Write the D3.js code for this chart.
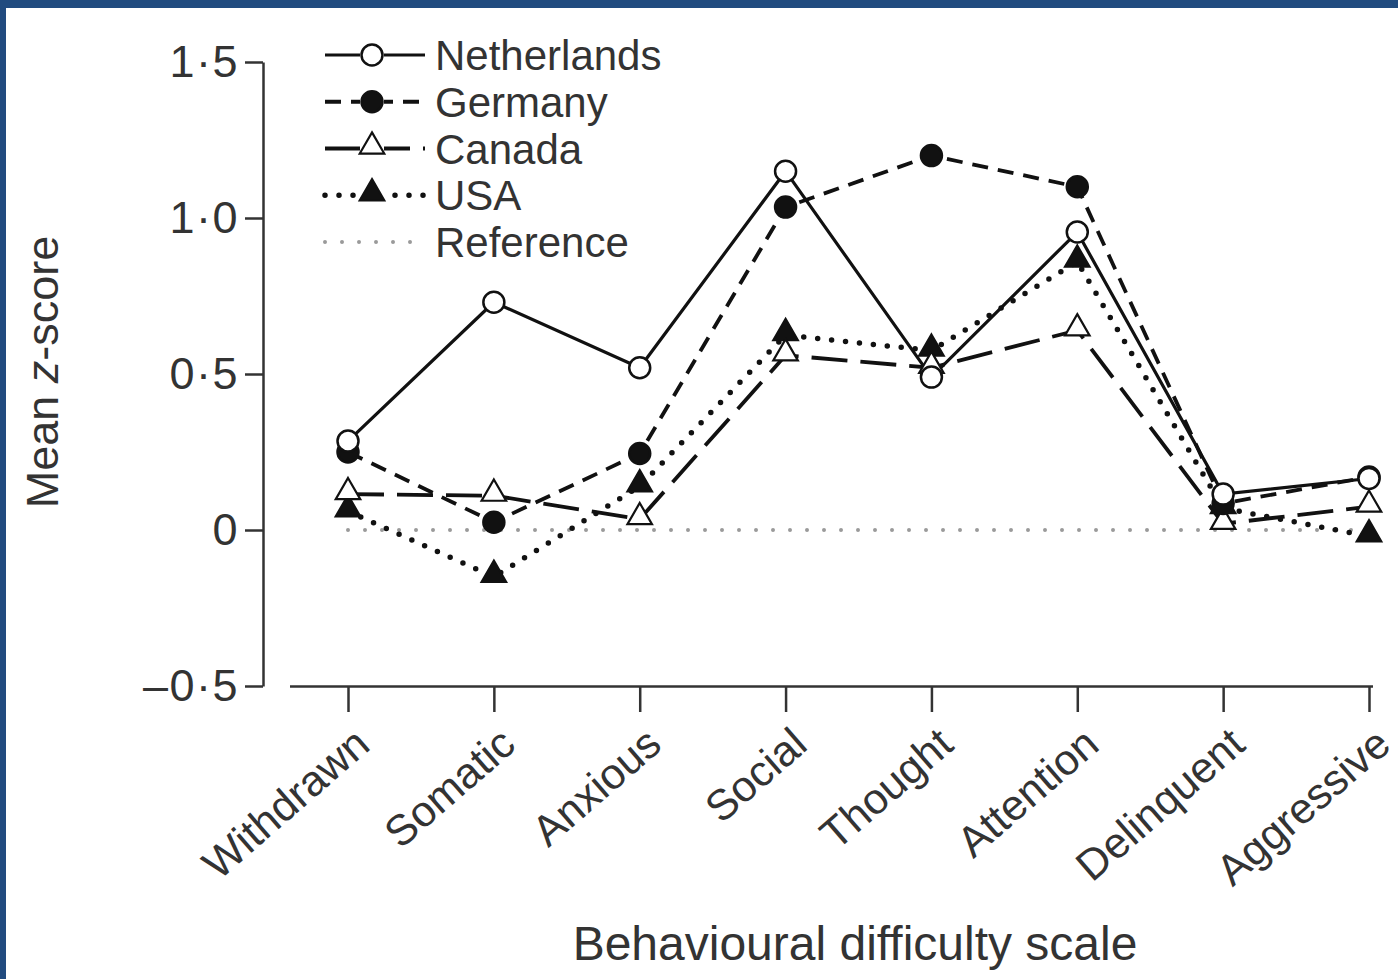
<!DOCTYPE html>
<html>
<head>
<meta charset="utf-8">
<script src="https://cdn.jsdelivr.net/npm/d3@7"></script>
<style>
  html, body { margin: 0; padding: 0; background: #fff; }
  svg { display: block; }
  text { font-family: "Liberation Sans", Arial, sans-serif; fill: #333; }
</style>
</head>
<body>
<svg id="chart"></svg>
<script>
  var WIDTH = 1398, HEIGHT = 979;

  var categories = ['Withdrawn', 'Somatic', 'Anxious', 'Social', 'Thought', 'Attention', 'Delinquent', 'Aggressive'];
  var netherlands = [0.285, 0.73, 0.52, 1.15, 0.49, 0.955, 0.115, 0.165];
  var germany = [0.25, 0.025, 0.245, 1.035, 1.2, 1.1, 0.085, 0.17];
  var canada = [0.115, 0.11, 0.035, 0.56, 0.52, 0.64, 0.02, 0.075];
  var usa = [0.06, -0.15, 0.14, 0.625, 0.575, 0.86, 0.07, -0.02];
  var reference = [0, 0, 0, 0, 0, 0, 0, 0];
  var yTicks = [-0.5, 0, 0.5, 1.0, 1.5];

  var series = [
    { name: 'Netherlands', values: netherlands, dash: null, width: 3.2, cap: 'butt', marker: 'circle', fill: '#fff' },
    { name: 'Germany', values: germany, dash: '16,10', width: 3.8, cap: 'butt', marker: 'circle', fill: '#111' },
    { name: 'Canada', values: canada, dash: '36,13', width: 3.8, cap: 'butt', marker: 'triangle', fill: '#fff' },
    { name: 'USA', values: usa, dash: '0,14', width: 5.5, cap: 'round', marker: 'triangle', fill: '#111' },
    { name: 'Reference', values: reference, dash: '0,17', width: 4, cap: 'round', marker: null, fill: null, color: '#9a9a9a' }
  ];

  var svg = d3.select('#chart').attr('width', WIDTH).attr('height', HEIGHT);

  // frame
  svg.append('rect').attr('width', WIDTH).attr('height', HEIGHT).attr('fill', '#fff');
  svg.append('rect').attr('x', 0).attr('y', 0).attr('width', WIDTH).attr('height', 8).attr('fill', '#214b7f');
  svg.append('rect').attr('x', 0).attr('y', 0).attr('width', 6).attr('height', HEIGHT).attr('fill', '#214b7f');

  var x = d3.scalePoint().domain(categories).range([348, 1369]);
  var y = d3.scaleLinear().domain([-0.5, 1.5]).range([686, 62]);

  function fmt(v) {
    if (v === 0) return '0';
    return (v < 0 ? '\u2013' : '') + d3.format('.1f')(Math.abs(v)).replace('.', '\u00b7');
  }

  // y axis
  var yAxis = svg.append('g')
    .attr('transform', 'translate(263,0)')
    .call(d3.axisLeft(y).tickValues(yTicks).tickFormat(fmt).tickSize(18).tickSizeOuter(0).tickPadding(6));
  yAxis.select('.domain').attr('stroke', '#333').attr('stroke-width', 2.5);
  yAxis.selectAll('.tick line').attr('stroke', '#333').attr('stroke-width', 2.5);
  yAxis.selectAll('.tick text')
    .style('font-family', '"Liberation Sans", Arial, sans-serif')
    .style('font-size', '45px').style('letter-spacing', '1.5px').attr('fill', '#333');

  // x axis
  var xAxis = svg.append('g')
    .attr('transform', 'translate(0,686)')
    .call(d3.axisBottom(x).tickSize(26).tickSizeOuter(0).tickFormat(''));
  xAxis.select('.domain').attr('d', 'M290,0.5H1373').attr('stroke', '#333').attr('stroke-width', 2.5);
  xAxis.selectAll('.tick line').attr('stroke', '#333').attr('stroke-width', 2.5);

  svg.append('g').selectAll('text')
    .data(categories)
    .enter().append('text')
    .attr('transform', function(d) { return 'translate(' + (x(d) + 24) + ',748) rotate(-41)'; })
    .attr('text-anchor', 'end')
    .style('font-size', '43px')
    .text(function(d) { return d; });

  // axis titles
  svg.append('text')
    .attr('x', 855).attr('y', 960)
    .attr('text-anchor', 'middle')
    .style('font-size', '48px')
    .text('Behavioural difficulty scale');

  var yTitle = svg.append('text')
    .attr('transform', 'translate(58,372) rotate(-90)')
    .attr('text-anchor', 'middle')
    .style('font-size', '45px');
  yTitle.append('tspan').text('Mean ');
  yTitle.append('tspan').style('font-style', 'italic').text('z');
  yTitle.append('tspan').text('-score');

  // lines
  var line = d3.line()
    .x(function(d, i) { return x(categories[i]); })
    .y(function(d) { return y(d); });

  var plot = svg.append('g');
  series.slice().reverse().forEach(function(s) {
    plot.append('path')
      .attr('d', line(s.values))
      .attr('fill', 'none')
      .attr('stroke', s.color || '#111')
      .attr('stroke-width', s.width)
      .attr('stroke-linecap', s.cap)
      .attr('stroke-dasharray', s.dash);
  });

  function drawMarker(g, s, cx, cy) {
    if (s.marker === 'circle') {
      g.append('circle')
        .attr('cx', cx).attr('cy', cy).attr('r', 10.5)
        .attr('fill', s.fill).attr('stroke', '#111').attr('stroke-width', 2.5);
    } else if (s.marker === 'triangle') {
      g.append('path')
        .attr('d', d3.symbol().type(d3.symbolTriangle).size(260)())
        .attr('transform', 'translate(' + cx + ',' + (cy - 2) + ')')
        .attr('fill', s.fill).attr('stroke', '#111').attr('stroke-width', 2.2)
        .attr('stroke-linejoin', 'miter');
    }
  }

  // markers: draw in reverse so Netherlands sits on top
  series.slice().reverse().forEach(function(s) {
    if (!s.marker) return;
    s.values.forEach(function(v, i) {
      drawMarker(plot, s, x(categories[i]), y(v));
    });
  });

  // legend
  var legend = svg.append('g');
  var rowY = d3.scalePoint().domain(series.map(function(s) { return s.name; })).range([55, 242]);
  series.forEach(function(s) {
    var ly = rowY(s.name);
    legend.append('path')
      .attr('d', 'M325,' + ly + 'H425')
      .attr('fill', 'none')
      .attr('stroke', s.color || '#111')
      .attr('stroke-width', s.width)
      .attr('stroke-linecap', s.cap)
      .attr('stroke-dasharray', s.dash);
    if (s.marker) {
      legend.append('rect').attr('x', 360).attr('y', ly - 13).attr('width', 24).attr('height', 26).attr('fill', '#fff');
      drawMarker(legend, s, 372, ly);
    }
    legend.append('text')
      .attr('x', 435).attr('y', ly + 15)
      .style('font-size', '42px')
      .text(s.name);
  });
</script>
</body>
</html>
